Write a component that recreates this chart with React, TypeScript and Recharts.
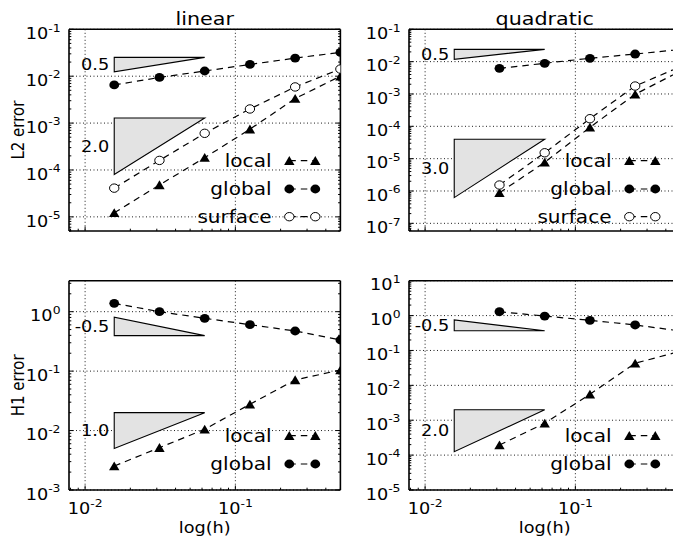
import React from 'react';
import { LineChart, Line, XAxis, YAxis, CartesianGrid, ReferenceArea, Legend } from 'recharts';

const FONT = "'DejaVu Sans', 'Bitstream Vera Sans', sans-serif";
const SX = 1.18; // horizontal stretch of glyphs seen in the reference

// mesh sizes h
const hFine = [0.015625, 0.03125, 0.0625, 0.125, 0.25, 0.5];
const hCoarse = [0.03125, 0.0625, 0.125, 0.25, 0.5];

// L2 error – linear
const l2LinLocal = [1.22e-5, 4.8e-5, 1.83e-4, 7.4e-4, 3.34e-3, 1.0e-2];
const l2LinGlobal = [6.5e-3, 9.4e-3, 1.29e-2, 1.78e-2, 2.43e-2, 3.22e-2];
const l2LinSurface = [4.1e-5, 1.6e-4, 6.05e-4, 2.0e-3, 5.9e-3, 1.42e-2];
// L2 error – quadratic
const l2QuadLocal = [8.8e-7, 7.7e-6, 9.3e-5, 9.8e-4, 5.1e-3];
const l2QuadGlobal = [6.2e-3, 8.9e-3, 1.27e-2, 1.72e-2, 2.37e-2];
const l2QuadSurface = [1.53e-6, 1.52e-5, 1.72e-4, 1.76e-3, 7.0e-3];
// H1 error – linear
const h1LinLocal = [2.53e-3, 5.15e-3, 1.05e-2, 2.77e-2, 7.1e-2, 0.1045];
const h1LinGlobal = [1.38, 1.0, 0.774, 0.604, 0.473, 0.334];
// H1 error – quadratic
const h1QuadLocal = [1.95e-4, 8.2e-4, 5.55e-3, 4.3e-2, 0.095];
const h1QuadGlobal = [1.29, 0.97, 0.733, 0.538, 0.362];

// axes
const xDomain: [number, number] = [0.0078125, 0.5];
const xMajorTicks = [0.01, 0.1];
const yMajorL2Lin = [1e-5, 1e-4, 1e-3, 1e-2, 1e-1];
const yMajorL2Quad = [1e-7, 1e-6, 1e-5, 1e-4, 1e-3, 1e-2, 1e-1];
const yMajorH1Lin = [1e-3, 1e-2, 1e-1, 1e0];
const yMajorH1Quad = [1e-5, 1e-4, 1e-3, 1e-2, 1e-1, 1e0, 1e1];
const titles = ['linear', 'quadratic'];
const yLabels = ['L2 error', 'H1 error'];
const xLabel = 'log(h)';

// slope triangles
type Slope = { x1: number; x2: number; y1: number; y2: number; text: string; dir: 'up' | 'down' };
const slopesL2Lin: Slope[] = [
  { x1: 0.015625, x2: 0.0625, y1: 0.0124, y2: 0.0252, text: '0.5', dir: 'up' },
  { x1: 0.015625, x2: 0.0625, y1: 8.0e-5, y2: 1.28e-3, text: '2.0', dir: 'up' },
];
const slopesL2Quad: Slope[] = [
  { x1: 0.015625, x2: 0.0625, y1: 0.0118, y2: 0.024, text: '0.5', dir: 'up' },
  { x1: 0.015625, x2: 0.0625, y1: 6.25e-7, y2: 4.0e-5, text: '3.0', dir: 'up' },
];
const slopesH1Lin: Slope[] = [
  { x1: 0.015625, x2: 0.0625, y1: 0.395, y2: 0.805, text: '-0.5', dir: 'down' },
  { x1: 0.015625, x2: 0.0625, y1: 0.005, y2: 0.02, text: '1.0', dir: 'up' },
];
const slopesH1Quad: Slope[] = [
  { x1: 0.015625, x2: 0.0625, y1: 0.369, y2: 0.748, text: '-0.5', dir: 'down' },
  { x1: 0.015625, x2: 0.0625, y1: 1.25e-4, y2: 2.0e-3, text: '2.0', dir: 'up' },
];

type Kind = 'tri' | 'dot' | 'ring';
type Series = { name: string; h: number[]; v: number[]; marker: Kind };

const DASH = '6.5 5';

function minorTicks(lo: number, hi: number): number[] {
  const out: number[] = [];
  for (let e = Math.floor(Math.log10(lo)) - 1; e <= Math.ceil(Math.log10(hi)); e++) {
    for (let m = 2; m <= 9; m++) {
      const v = m * Math.pow(10, e);
      if (v >= lo * 0.9999 && v <= hi * 1.0001) out.push(v);
    }
  }
  return out;
}

const isMajor = (v: number) => Math.abs(Math.log10(v) - Math.round(Math.log10(v))) < 1e-6;

// text with the reference's horizontal glyph stretch
function SText({
  x,
  y,
  size,
  anchor = 'start',
  rotate = 0,
  children,
}: {
  x: number;
  y: number;
  size: number;
  anchor?: 'start' | 'middle' | 'end';
  rotate?: number;
  children: React.ReactNode;
}) {
  return (
    <g transform={`translate(${x},${y}) scale(${SX},1)${rotate ? ` rotate(${rotate})` : ''}`}>
      <text x={0} y={0} textAnchor={anchor} fontFamily={FONT} fontSize={size} fill="#000">
        {children}
      </text>
    </g>
  );
}

function Marker({ cx, cy, kind }: { cx: number; cy: number; kind: Kind }) {
  if (kind === 'tri')
    return <polygon points={`${cx},${cy - 4.6} ${cx - 5.2},${cy + 4.2} ${cx + 5.2},${cy + 4.2}`} fill="#000" />;
  if (kind === 'dot') return <ellipse cx={cx} cy={cy} rx={4.9} ry={4.4} fill="#000" />;
  return <ellipse cx={cx} cy={cy} rx={4.7} ry={4.2} fill="#fff" stroke="#000" strokeWidth={1} />;
}

function Pow10({ x, y, exp, anchor }: { x: number; y: number; exp: string; anchor: 'end' | 'middle' }) {
  return (
    <SText x={x} y={y} size={15} anchor={anchor}>
      <tspan>10</tspan>
      <tspan dy={-7.5} fontSize={10.5}>
        {exp}
      </tspan>
    </SText>
  );
}

const AxisTick = (props: any) => {
  const { x, y, payload, side, showLabel } = props;
  const v = payload.value as number;
  const major = isMajor(v);
  const len = major ? 4.5 : 2.3;
  let x2 = x;
  let y2 = y;
  if (side === 'bottom') y2 = y - len;
  else if (side === 'top') y2 = y + len;
  else if (side === 'left') x2 = x + len;
  else x2 = x - len;
  const exp = String(Math.round(Math.log10(v)));
  return (
    <g>
      <line x1={x} y1={y} x2={x2} y2={y2} stroke="#000" strokeWidth={1} />
      {major && showLabel && side === 'left' && <Pow10 x={x - 8.5} y={y + 9.7} exp={exp} anchor="end" />}
      {major && showLabel && side === 'bottom' && <Pow10 x={x} y={y + 24} exp={exp} anchor="middle" />}
    </g>
  );
};

const triShape = (dir: 'up' | 'down') => (p: any) => {
  const { x, y, width, height } = p;
  const pts =
    dir === 'up'
      ? `${x},${y} ${x},${y + height} ${x + width},${y}`
      : `${x},${y} ${x},${y + height} ${x + width},${y + height}`;
  return <polygon points={pts} fill="#e3e3e3" stroke="#000" strokeWidth={1.1} />;
};

const slopeLabel = (text: string) => (p: any) => {
  const vb = p.viewBox || {};
  return (
    <SText x={vb.x - 5} y={vb.y + vb.height / 2 + 5.5} size={15} anchor="end">
      {text}
    </SText>
  );
};

type PanelCfg = {
  left: number;
  top: number;
  T: number;
  B: number;
  plotH: number;
  yDomain: [number, number];
  yMajor: number[];
  series: Series[];
  slopes: Slope[];
  title?: string;
  yLabel?: string;
  showXLabel: boolean;
  legendRows: number[];
};

const L = 69;
const R = 2;
const PLOT_W = 271.4;

function LegendBox({ series, rows }: { series: Series[]; rows: number[] }) {
  const W = 150;
  const H = 90;
  return (
    <svg width={W} height={H} style={{ overflow: 'visible', display: 'block' }}>
      {series.map((s, i) => {
        const y = H + rows[i];
        return (
          <g key={s.name}>
            <SText x={W - 68.5} y={y + 6} size={17} anchor="end">
              {s.name}
            </SText>
            <line x1={W - 50.7} y1={y} x2={W - 24.7} y2={y} stroke="#000" strokeWidth={1.2} strokeDasharray={DASH} />
            <Marker cx={W - 50.7} cy={y} kind={s.marker} />
            <Marker cx={W - 24.7} cy={y} kind={s.marker} />
          </g>
        );
      })}
    </svg>
  );
}

function Panel({ cfg }: { cfg: PanelCfg }) {
  const width = L + PLOT_W + R;
  const height = cfg.T + cfg.plotH + cfg.B;
  const xTicks = [...xMajorTicks, ...minorTicks(xDomain[0], xDomain[1])].sort((a, b) => a - b);
  const yTicks = [...cfg.yMajor, ...minorTicks(cfg.yDomain[0], cfg.yDomain[1])].sort((a, b) => a - b);
  const axisLine = { stroke: '#000', strokeWidth: 1.6 };
  return (
    <div style={{ position: 'absolute', left: cfg.left, top: cfg.top, width, height }}>
      <LineChart width={width} height={height} margin={{ top: 0, right: 0, bottom: 0, left: 0 }}>
        <CartesianGrid
          horizontalValues={cfg.yMajor}
          verticalValues={xMajorTicks}
          stroke="#000"
          strokeWidth={0.9}
          strokeDasharray="1 2.5"
        />
        <XAxis
          type="number"
          dataKey="h"
          scale="log"
          domain={xDomain}
          allowDataOverflow
          ticks={xTicks}
          interval={0}
          tickSize={0}
          tickMargin={0}
          tickLine={false}
          axisLine={axisLine}
          height={cfg.B}
          tick={<AxisTick side="bottom" showLabel={cfg.showXLabel} />}
          label={
            cfg.showXLabel
              ? {
                  content: () => (
                    <SText x={L + PLOT_W / 2} y={cfg.T + cfg.plotH + 43} size={15} anchor="middle">
                      {xLabel}
                    </SText>
                  ),
                }
              : undefined
          }
        />
        <XAxis
          xAxisId="top"
          orientation="top"
          type="number"
          scale="log"
          domain={xDomain}
          allowDataOverflow
          ticks={xTicks}
          interval={0}
          tickSize={0}
          tickMargin={0}
          tickLine={false}
          axisLine={axisLine}
          height={cfg.T}
          tick={<AxisTick side="top" showLabel={false} />}
          label={
            cfg.title
              ? {
                  content: () => (
                    <SText x={L + PLOT_W / 2} y={25} size={17.5} anchor="middle">
                      {cfg.title}
                    </SText>
                  ),
                }
              : undefined
          }
        />
        <YAxis
          type="number"
          scale="log"
          domain={cfg.yDomain}
          allowDataOverflow
          ticks={yTicks}
          interval={0}
          tickSize={0}
          tickMargin={0}
          tickLine={false}
          axisLine={axisLine}
          width={L}
          tick={<AxisTick side="left" showLabel />}
          label={
            cfg.yLabel
              ? {
                  content: () => (
                    <SText x={24} y={cfg.T + cfg.plotH / 2} size={15} anchor="middle" rotate={-90}>
                      {cfg.yLabel}
                    </SText>
                  ),
                }
              : undefined
          }
        />
        <YAxis
          yAxisId="right"
          orientation="right"
          type="number"
          scale="log"
          domain={cfg.yDomain}
          allowDataOverflow
          ticks={yTicks}
          interval={0}
          tickSize={0}
          tickMargin={0}
          tickLine={false}
          axisLine={axisLine}
          width={R}
          tick={<AxisTick side="right" showLabel={false} />}
        />
        {cfg.slopes.map((s, i) => (
          <ReferenceArea
            key={`slope-${i}`}
            x1={s.x1}
            x2={s.x2}
            y1={s.y1}
            y2={s.y2}
            shape={triShape(s.dir)}
            label={{ content: slopeLabel(s.text) }}
          />
        ))}
        {cfg.series.map((s) => (
          <Line
            key={s.name}
            name={s.name}
            data={s.h.map((h, i) => ({ h, v: s.v[i] }))}
            dataKey="v"
            stroke="#000"
            strokeWidth={1.2}
            strokeDasharray={DASH}
            isAnimationActive={false}
            activeDot={false}
            dot={(p: any) => <Marker key={`${s.name}-${p.index}`} cx={p.cx} cy={p.cy} kind={s.marker} />}
          />
        ))}
        <Legend
          layout="horizontal"
          verticalAlign="middle"
          align="center"
          wrapperStyle={{
            position: 'absolute',
            left: L + PLOT_W - 150,
            top: cfg.T + cfg.plotH - 90,
            width: 150,
            height: 90,
            margin: 0,
            padding: 0,
          }}
          content={() => <LegendBox series={cfg.series} rows={cfg.legendRows} />}
        />
      </LineChart>
    </div>
  );
}

const panels: PanelCfg[] = [
  {
    left: 0,
    top: 0,
    T: 29.3,
    B: 20.7,
    plotH: 201.7,
    yDomain: [5e-6, 0.1],
    yMajor: yMajorL2Lin,
    series: [
      { name: 'local', h: hFine, v: l2LinLocal, marker: 'tri' },
      { name: 'global', h: hFine, v: l2LinGlobal, marker: 'dot' },
      { name: 'surface', h: hFine, v: l2LinSurface, marker: 'ring' },
    ],
    slopes: slopesL2Lin,
    title: titles[0],
    yLabel: yLabels[0],
    showXLabel: false,
    legendRows: [-70.3, -42, -14.3],
  },
  {
    left: 340,
    top: 0,
    T: 29.3,
    B: 20.7,
    plotH: 201.7,
    yDomain: [5.8e-8, 0.1],
    yMajor: yMajorL2Quad,
    series: [
      { name: 'local', h: hCoarse, v: l2QuadLocal, marker: 'tri' },
      { name: 'global', h: hCoarse, v: l2QuadGlobal, marker: 'dot' },
      { name: 'surface', h: hCoarse, v: l2QuadSurface, marker: 'ring' },
    ],
    slopes: slopesL2Quad,
    title: titles[1],
    showXLabel: false,
    legendRows: [-70.3, -42, -14.3],
  },
  {
    left: 0,
    top: 252,
    T: 28.7,
    B: 52,
    plotH: 209.3,
    yDomain: [1e-3, 3.32],
    yMajor: yMajorH1Lin,
    series: [
      { name: 'local', h: hFine, v: h1LinLocal, marker: 'tri' },
      { name: 'global', h: hFine, v: h1LinGlobal, marker: 'dot' },
    ],
    slopes: slopesH1Lin,
    yLabel: yLabels[1],
    showXLabel: true,
    legendRows: [-54.3, -26],
  },
  {
    left: 340,
    top: 252,
    T: 28.7,
    B: 52,
    plotH: 209.3,
    yDomain: [1e-5, 10],
    yMajor: yMajorH1Quad,
    series: [
      { name: 'local', h: hCoarse, v: h1QuadLocal, marker: 'tri' },
      { name: 'global', h: hCoarse, v: h1QuadGlobal, marker: 'dot' },
    ],
    slopes: slopesH1Quad,
    showXLabel: true,
    legendRows: [-54.3, -26],
  },
];

export default function App() {
  return (
    <div
      style={{
        position: 'absolute',
        left: 0,
        top: 0,
        width: 673,
        height: 542,
        overflow: 'hidden',
        background: '#fff',
        fontFamily: FONT,
      }}
    >
      {panels.map((p, i) => (
        <Panel key={i} cfg={p} />
      ))}
    </div>
  );
}
